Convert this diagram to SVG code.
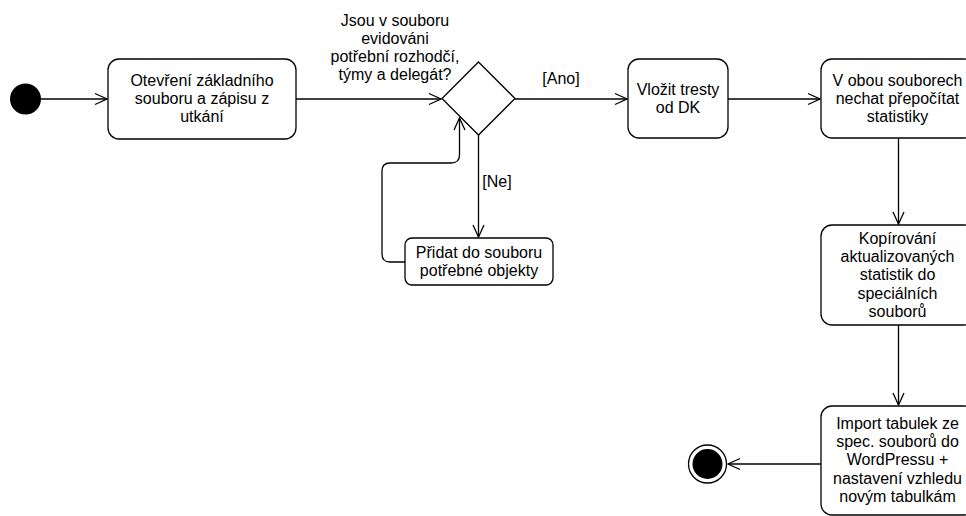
<svg xmlns="http://www.w3.org/2000/svg" width="966" height="516" viewBox="0 0 966 516">
<style>
  .box{fill:#fff;stroke:#000;stroke-width:1.3}
  .t{font-family:"Liberation Sans",Arial,Helvetica,sans-serif;font-size:16px;fill:#000;text-anchor:middle}
  .e{fill:none;stroke:#000;stroke-width:1.3}
</style>
<defs>
  <marker id="arr" viewBox="0 0 14 14" markerWidth="14" markerHeight="14" refX="13" refY="7" orient="auto" markerUnits="userSpaceOnUse">
    <path d="M1,1.5 L13,7 L1,12.5" fill="none" stroke="#000" stroke-width="1.3"/>
  </marker>
</defs>
<rect width="966" height="516" fill="#fff"/>
<g id="connectors">
  <path class="e" d="M41,99 L107,99" marker-end="url(#arr)"/>
  <path class="e" d="M296,99 L441,99" marker-end="url(#arr)"/>
  <path class="e" d="M515,99 L627,99" marker-end="url(#arr)"/>
  <path class="e" d="M728,99 L820,99" marker-end="url(#arr)"/>
  <path class="e" d="M478.5,135 L478.5,237" marker-end="url(#arr)"/>
  <path class="e" d="M405,262 L390,262 Q382,262 382,254 L382,171 Q382,163 390,163 L451,163 Q459.5,163 459.5,155 L459.5,118" marker-end="url(#arr)"/>
  <path class="e" d="M898.5,138 L898.5,224" marker-end="url(#arr)"/>
  <path class="e" d="M898.5,325 L898.5,405" marker-end="url(#arr)"/>
  <path class="e" d="M821,464 L728,464" marker-end="url(#arr)"/>
  <text class="t" x="561" y="83.5">[Ano]</text>
  <text class="t" x="497" y="186.5">[Ne]</text>
</g>
<g id="start">
  <circle cx="25.5" cy="99" r="15.5" fill="#000"/>
</g>
<g id="open">
  <rect class="box" x="108" y="59" width="188" height="80" rx="11"/>
  <text class="t" x="202" y="85.6">Otevření základního</text>
  <text class="t" x="202" y="104">souboru a zápisu z</text>
  <text class="t" x="202" y="122.4">utkání</text>
</g>
<g id="decision">
  <path class="box" d="M478.5,62 L515,98.5 L478.5,135 L442,98.5 Z"/>
  <text class="t" x="395" y="26">Jsou v souboru</text>
  <text class="t" x="395" y="44">evidováni</text>
  <text class="t" x="395" y="62">potřební rozhodčí,</text>
  <text class="t" x="395" y="80">týmy a delegát?</text>
</g>
<g id="add">
  <rect class="box" x="405" y="238" width="148" height="47" rx="7"/>
  <text class="t" x="479" y="257.5">Přidat do souboru</text>
  <text class="t" x="479" y="276">potřebné objekty</text>
</g>
<g id="penalties">
  <rect class="box" x="628" y="59" width="100" height="79" rx="11"/>
  <text class="t" x="678" y="95">Vložit tresty</text>
  <text class="t" x="678" y="113.4">od DK</text>
</g>
<g id="recalc">
  <rect class="box" x="821" y="59" width="154" height="79" rx="11"/>
  <text class="t" x="897.5" y="85.6">V obou souborech</text>
  <text class="t" x="897.5" y="104">nechat přepočítat</text>
  <text class="t" x="897.5" y="122.4">statistiky</text>
</g>
<g id="copy">
  <rect class="box" x="821" y="225" width="154" height="100" rx="11"/>
  <text class="t" x="897.5" y="243.5">Kopírování</text>
  <text class="t" x="897.5" y="261.9">aktualizovaných</text>
  <text class="t" x="897.5" y="280.3">statistik do</text>
  <text class="t" x="897.5" y="298.7">speciálních</text>
  <text class="t" x="897.5" y="317.1">souborů</text>
</g>
<g id="import">
  <rect class="box" x="821" y="406" width="154" height="109" rx="11"/>
  <text class="t" x="897.5" y="428.5">Import tabulek ze</text>
  <text class="t" x="897.5" y="446.9">spec. souborů do</text>
  <text class="t" x="897.5" y="465.3">WordPressu +</text>
  <text class="t" x="897.5" y="483.7">nastavení vzhledu</text>
  <text class="t" x="897.5" y="502.1">novým tabulkám</text>
</g>
<g id="end">
  <circle cx="707.5" cy="464" r="19" fill="#fff" stroke="#000" stroke-width="1.3"/>
  <circle cx="707.5" cy="464" r="15" fill="#000"/>
</g>
</svg>
